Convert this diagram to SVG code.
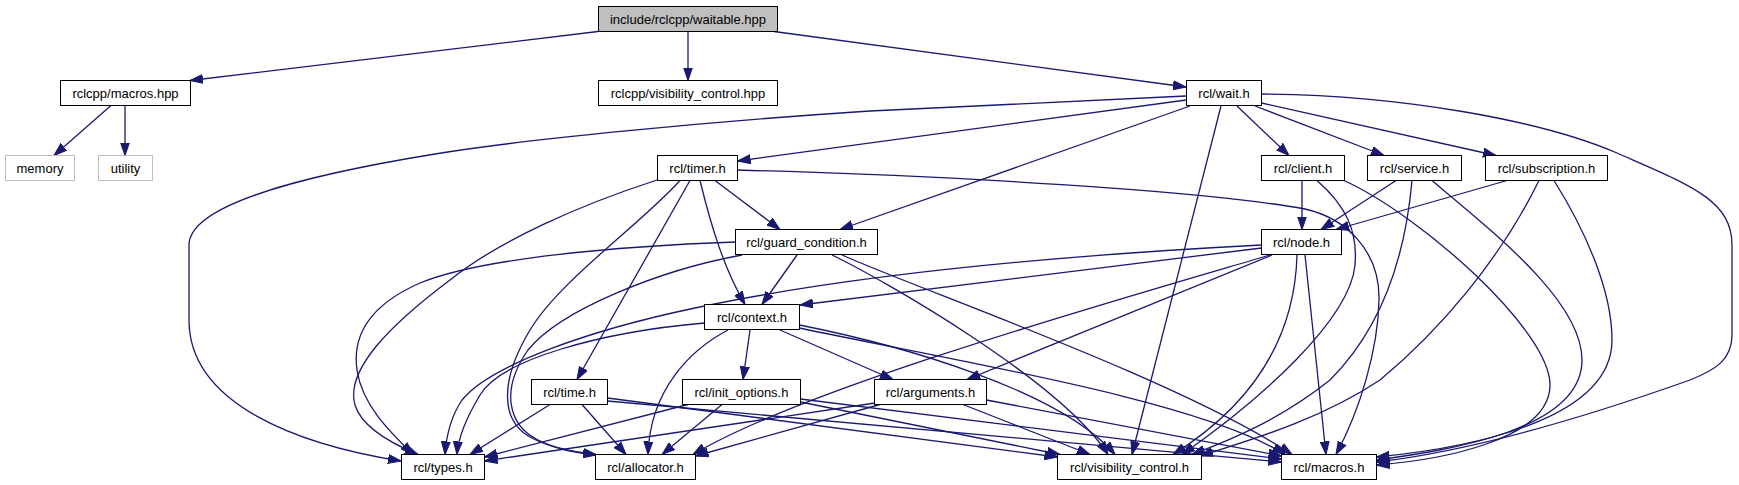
<svg xmlns="http://www.w3.org/2000/svg" width="1739" height="485" viewBox="0 0 1739 485">
<style>
.n rect{fill:#fff;stroke:#000;stroke-width:1}
.n.root rect{fill:#bfbfbf}
.n.ext rect{stroke:#bfbfbf}
.n text{font-family:"Liberation Sans",Arial,sans-serif;font-size:13px;fill:#000;text-anchor:middle}
.e path{fill:none;stroke:#191970;stroke-width:1.3;marker-end:url(#ah)}
</style>
<defs>
<marker id="ah" markerUnits="userSpaceOnUse" markerWidth="14" markerHeight="10" refX="13" refY="5" orient="auto">
<path d="M0,0.5 L13,5 L0,9.5 Z" fill="#191970" stroke="#191970" stroke-width="1"/>
</marker>
</defs>
<rect width="1739" height="485" fill="#fff"/>
<g id="edges" class="e">
<path d="M598,31.5 L190,80.5"/>
<path d="M688,31.5 L688,80.5"/>
<path d="M774,31.5 L1186,87"/>
<path d="M111,105.5 L54,155.5"/>
<path d="M125,105.5 L125,155.5"/>
<path d="M1186,96 L870,111 C700,122 520,140 435,154 C300,176 189,205 189,245 L189,320 C189,405 300,445 401,461"/>
<path d="M1186,100 L737.5,161"/>
<path d="M1190,106 L840,229.5"/>
<path d="M1221,106 L1132,454.5"/>
<path d="M1237,106 L1289,155.5"/>
<path d="M1255,106 L1384,155.5"/>
<path d="M1261.5,103 L1496,155.5"/>
<path d="M1261.5,94 C1400,95 1540,120 1617,153 C1690,185 1732,200 1732,245 L1732,335 C1732,360 1715,370 1690,380 C1600,412 1480,450 1376.5,462"/>
<path d="M715,180.5 L780,229.5"/>
<path d="M657,180 C580,205 500,240 450,280 C390,325 345,370 355,405 C362,428 395,445 418,454.5"/>
<path d="M680,180.5 C640,225 560,280 530,330 C500,380 500,420 530,437 C550,448 572,452 596,455"/>
<path d="M690,180.5 L577,379.5"/>
<path d="M700,180.5 C712,230 725,270 745,304.5"/>
<path d="M737.5,170 C950,176 1200,190 1305,209 C1345,218 1380,250 1379,300 C1378,350 1360,410 1336,454.5"/>
<path d="M797,255 L762,304.5"/>
<path d="M736,242 C620,246 480,258 420,283 C370,305 352,335 357,370 C362,405 390,432 413,454.5"/>
<path d="M742,255 C660,270 560,310 528,350 C500,390 508,425 538,440 C556,449 576,452 596,454.5"/>
<path d="M832,255 C880,278 1060,380 1108,454.5"/>
<path d="M842,255 C920,290 1180,380 1292,454.5"/>
<path d="M704.5,323 C600,332 500,360 480,395 C465,420 458,440 457,454.5"/>
<path d="M728,330 C690,350 650,390 648,454.5"/>
<path d="M750,330 L743,379.5"/>
<path d="M780,330 L893,379.5"/>
<path d="M799.5,325 C900,345 1060,390 1115,454.5"/>
<path d="M799.5,328 C950,360 1200,400 1285,454.5"/>
<path d="M1261.5,245 C1050,256 850,275 695,308 C590,330 490,365 462,400 C450,418 446,440 445,454.5"/>
<path d="M1261.5,248 L800,305"/>
<path d="M1270,255 C1100,305 800,390 693,454.5"/>
<path d="M1272,255 L967,379.5"/>
<path d="M1297,255 C1295,330 1260,400 1173,454.5"/>
<path d="M1305,255 L1326,454.5"/>
<path d="M1302,180.5 L1302,229.5"/>
<path d="M1317,180.5 C1345,205 1358,230 1355,265 C1350,320 1260,400 1182,454.5"/>
<path d="M1344,180.5 C1420,215 1550,330 1550,385 C1550,440 1440,460 1376.5,465"/>
<path d="M1396,180.5 L1321,229.5"/>
<path d="M1412,180.5 C1405,260 1380,330 1330,380 C1280,420 1230,440 1192,454.5"/>
<path d="M1432,180.5 C1490,230 1582,300 1582,360 C1582,430 1450,450 1376.5,460"/>
<path d="M1507,180.5 L1336,229.5"/>
<path d="M1539,180.5 C1500,260 1440,330 1380,380 C1320,420 1250,440 1200,456"/>
<path d="M1554,180.5 C1585,230 1612,290 1612,340 C1612,420 1470,448 1376.5,457"/>
<path d="M550,404.5 L470,454.5"/>
<path d="M582,404.5 L626,454.5"/>
<path d="M607.5,398 L1057.5,457"/>
<path d="M607.5,401 L1281.5,462"/>
<path d="M688,404.5 L484.5,457"/>
<path d="M722,404.5 L662,454.5"/>
<path d="M800.5,402 L1060,454.5"/>
<path d="M800.5,399 L1281.5,459"/>
<path d="M875,403 L484.5,461"/>
<path d="M880,404.5 L695.5,456"/>
<path d="M963,404.5 L1090,454.5"/>
<path d="M986.5,400 L1281.5,456"/>
</g>
<g id="waitable" class="n root"><rect x="598.5" y="6.5" width="179" height="25"/><text x="688" y="23.5">include/rclcpp/waitable.hpp</text></g>
<g id="rclcpp_macros" class="n"><rect x="60.5" y="80.5" width="130" height="25"/><text x="125.5" y="97.5">rclcpp/macros.hpp</text></g>
<g id="rclcpp_visibility" class="n"><rect x="598.5" y="80.5" width="179" height="25"/><text x="688" y="97.5">rclcpp/visibility_control.hpp</text></g>
<g id="wait" class="n"><rect x="1186.5" y="80.5" width="75" height="25"/><text x="1224" y="97.5">rcl/wait.h</text></g>
<g id="memory" class="n ext"><rect x="5.5" y="155.5" width="69" height="25"/><text x="40" y="172.5">memory</text></g>
<g id="utility" class="n ext"><rect x="98.5" y="155.5" width="54" height="25"/><text x="125.5" y="172.5">utility</text></g>
<g id="timer" class="n"><rect x="657.5" y="155.5" width="80" height="25"/><text x="697.5" y="172.5">rcl/timer.h</text></g>
<g id="client" class="n"><rect x="1261.5" y="155.5" width="83" height="25"/><text x="1303" y="172.5">rcl/client.h</text></g>
<g id="service" class="n"><rect x="1367.5" y="155.5" width="94" height="25"/><text x="1414.5" y="172.5">rcl/service.h</text></g>
<g id="subscription" class="n"><rect x="1485.5" y="155.5" width="122" height="25"/><text x="1546.5" y="172.5">rcl/subscription.h</text></g>
<g id="guard_condition" class="n"><rect x="735.5" y="229.5" width="142" height="25"/><text x="806.5" y="246.5">rcl/guard_condition.h</text></g>
<g id="node" class="n"><rect x="1261.5" y="229.5" width="80" height="25"/><text x="1301.5" y="246.5">rcl/node.h</text></g>
<g id="context" class="n"><rect x="704.5" y="304.5" width="95" height="25"/><text x="752" y="321.5">rcl/context.h</text></g>
<g id="time" class="n"><rect x="531.5" y="379.5" width="76" height="25"/><text x="569.5" y="396.5">rcl/time.h</text></g>
<g id="init_options" class="n"><rect x="682.5" y="379.5" width="118" height="25"/><text x="741.5" y="396.5">rcl/init_options.h</text></g>
<g id="arguments" class="n"><rect x="874.5" y="379.5" width="112" height="25"/><text x="930.5" y="396.5">rcl/arguments.h</text></g>
<g id="types" class="n"><rect x="401.5" y="454.5" width="83" height="25"/><text x="443" y="471.5">rcl/types.h</text></g>
<g id="allocator" class="n"><rect x="595.5" y="454.5" width="100" height="25"/><text x="645.5" y="471.5">rcl/allocator.h</text></g>
<g id="visibility_control" class="n"><rect x="1057.5" y="454.5" width="144" height="25"/><text x="1129.5" y="471.5">rcl/visibility_control.h</text></g>
<g id="macros" class="n"><rect x="1281.5" y="454.5" width="95" height="25"/><text x="1329" y="471.5">rcl/macros.h</text></g>
</svg>
